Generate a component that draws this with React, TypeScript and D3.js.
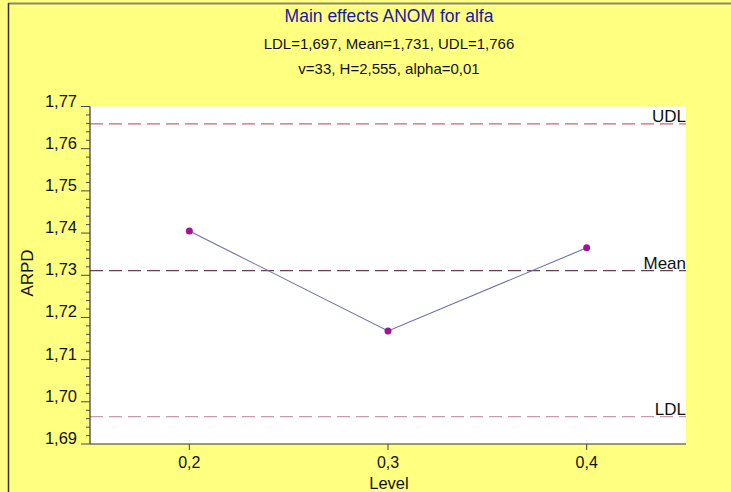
import React from "react";
import * as d3 from "d3";

const levels = [0.2, 0.3, 0.4];
const arpd = [1.7405, 1.7168, 1.7365];
const yTicks = [1.69, 1.7, 1.71, 1.72, 1.73, 1.74, 1.75, 1.76, 1.77];
const xTicks = [0.2, 0.3, 0.4];
const refLines = [
  { name: "UDL", value: 1.7659, color: "#c86a6a" },
  { name: "Mean", value: 1.7311, color: "#6a3f55" },
  { name: "LDL", value: 1.6965, color: "#c99aa8" },
];
const titleText = "Main effects ANOM for alfa";
const sub1 = "LDL=1,697, Mean=1,731, UDL=1,766";
const sub2 = "v=33, H=2,555, alpha=0,01";

const W = 731;
const H = 492;
const m = { left: 90, right: 686, top: 106.5, bottom: 444 };

const fmt = (v: number, d: number) => v.toFixed(d).replace(".", ",");

export default function App() {
  const x = d3.scaleLinear().domain([0.15, 0.45]).range([m.left, m.right]);
  const y = d3.scaleLinear().domain([1.69, 1.77]).range([m.bottom, m.top]);
  const minor = d3.range(0, 41).map((i) => 1.69 + i * 0.002);
  const line = d3
    .line<number>()
    .x((_, i) => x(levels[i]))
    .y((d) => y(d));
  const font = "'Liberation Sans', Arial, sans-serif";
  return (
    <svg
      width={W}
      height={H}
      style={{ position: "absolute", left: 0, top: 0 }}
      fontFamily={font}
    >
      <rect x={0} y={0} width={W} height={H} fill="#ffff80" />
      <line x1={8.5} y1={3.5} x2={W} y2={3.5} stroke="#8a877a" strokeWidth={2} />
      <line x1={8.5} y1={3} x2={8.5} y2={H} stroke="#333" strokeWidth={1.5} />
      <rect
        x={m.left}
        y={m.top}
        width={m.right - m.left}
        height={m.bottom - m.top}
        fill="#ffffff"
      />
      <text x={389} y={22} textAnchor="middle" fontSize={17.5} fill="#1a1aa0">
        {titleText}
      </text>
      <text x={389} y={49} textAnchor="middle" fontSize={15} fill="#111">
        {sub1}
      </text>
      <text x={389} y={74} textAnchor="middle" fontSize={15} fill="#111">
        {sub2}
      </text>
      {refLines.map((r) => (
        <g key={r.name}>
          <line
            x1={m.left}
            x2={m.right}
            y1={y(r.value)}
            y2={y(r.value)}
            stroke={r.color}
            strokeWidth={1.2}
            strokeDasharray="13,6"
          />
          <text
            x={m.right}
            y={y(r.value) - 2}
            textAnchor="end"
            fontSize={17}
            fill="#111"
          >
            {r.name}
          </text>
        </g>
      ))}
      <path d={line(arpd) || ""} fill="none" stroke="#6e6ea8" strokeWidth={1.1} />
      {arpd.map((v, i) => (
        <circle key={i} cx={x(levels[i])} cy={y(v)} r={3.5} fill="#a0149a" />
      ))}
      {/* y axis */}
      <line x1={m.left} x2={m.left} y1={m.top} y2={m.bottom} stroke="#333" strokeWidth={1.2} />
      {minor.map((t, i) => (
        <line
          key={i}
          x1={m.left - (i % 5 === 0 ? 9 : 4)}
          x2={m.left}
          y1={y(t)}
          y2={y(t)}
          stroke="#444466"
          strokeWidth={1}
        />
      ))}
      {yTicks.map((t) => (
        <text
          key={t}
          x={m.left - 13}
          y={y(t)}
          textAnchor="end"
          fontSize={16.5}
          fill="#111"
        >
          {fmt(t, 2)}
        </text>
      ))}
      {/* x axis */}
      <line x1={m.left} x2={m.right} y1={m.bottom} y2={m.bottom} stroke="#333" strokeWidth={1.2} />
      {xTicks.map((t) => (
        <g key={t}>
          <line x1={x(t)} x2={x(t)} y1={m.bottom} y2={m.bottom + 6} stroke="#444" />
          <text x={x(t)} y={m.bottom + 24} textAnchor="middle" fontSize={16} fill="#111">
            {fmt(t, 1)}
          </text>
        </g>
      ))}
      <text x={389} y={489} textAnchor="middle" fontSize={16.5} fill="#111">
        Level
      </text>
      <text
        transform={`translate(33,${273}) rotate(-90)`}
        textAnchor="middle"
        fontSize={17}
        fill="#111"
      >
        ARPD
      </text>
    </svg>
  );
}
